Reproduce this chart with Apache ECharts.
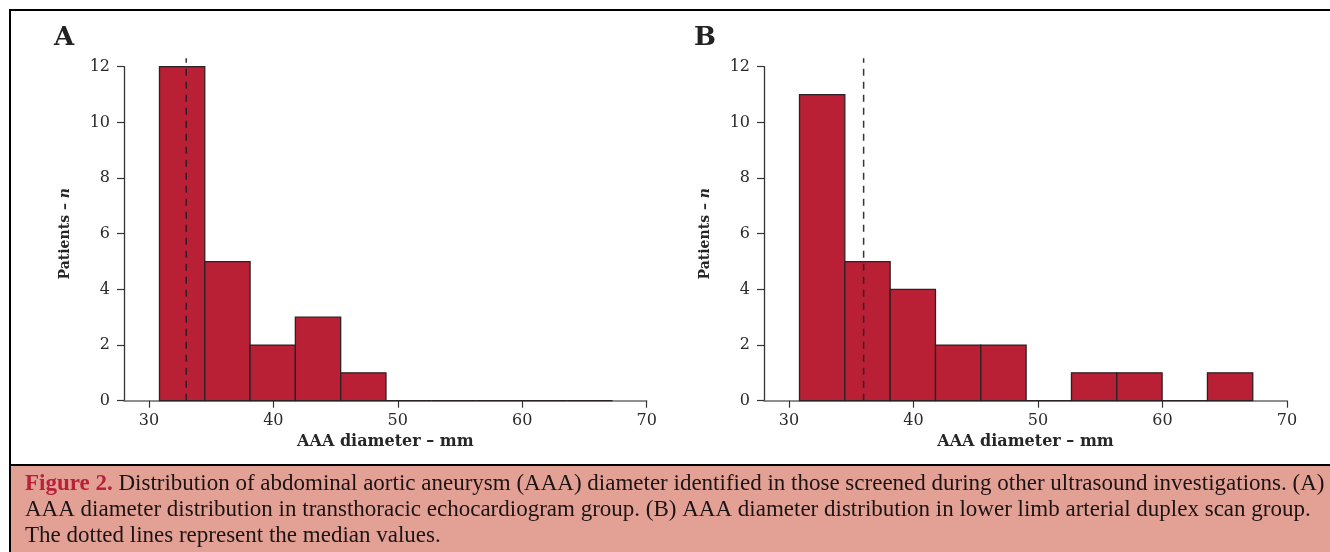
<!DOCTYPE html>
<html>
<head>
<meta charset="utf-8">
<script src="https://cdn.jsdelivr.net/npm/echarts@6/dist/echarts.min.js"></script>
<style>
  html, body { margin: 0; padding: 0; background: #fff; }
  #chart { width: 1330px; height: 552px; }
</style>
</head>
<body>
<div id="chart"></div>
<script>
// bin edges (mm), shared by both panels
var binEdges = [30.85, 34.49, 38.13, 41.77, 45.41, 49.05, 52.69, 56.33, 59.97, 63.61, 67.25];
// patient counts per bin
var countsA = [12, 5, 2, 3, 1, 0, 0, 0, 0, 0];
var countsB = [11, 5, 4, 2, 2, 0, 1, 1, 0, 1];
// median diameters (dotted lines)
var medianA = 33;
var medianB = 36;
var xTicks = [30, 40, 50, 60, 70];

var serif = 'DejaVu Serif';

function toBins(counts) {
  var out = [];
  for (var i = 0; i < counts.length; i++) {
    out.push([binEdges[i], binEdges[i + 1], counts[i]]);
  }
  return out;
}

function renderBar(params, api) {
  var p0 = api.coord([api.value(0), 0]);
  var p1 = api.coord([api.value(1), api.value(2)]);
  return {
    type: 'rect',
    shape: { x: p0[0], y: p1[1], width: p1[0] - p0[0], height: p0[1] - p1[1] },
    style: { fill: '#B91F35', stroke: '#2a2224', lineWidth: 1.3 }
  };
}

function xAxisOpt(idx) {
  return {
    type: 'value', gridIndex: idx, min: 28, max: 70,
    name: 'AAA diameter – mm', nameLocation: 'middle', nameGap: 31,
    nameTextStyle: { fontFamily: serif, fontWeight: 'bold', fontSize: 16, color: '#262626' },
    axisLine: { show: true, lineStyle: { color: '#6a6a6a', width: 1.5 } },
    axisTick: { show: true, length: 7, customValues: xTicks, lineStyle: { color: '#333', width: 1.2 } },
    axisLabel: { customValues: xTicks, margin: 12, fontFamily: serif, fontSize: 16, color: '#2a2a2a' },
    splitLine: { show: false }
  };
}

function yAxisOpt(idx) {
  return {
    type: 'value', gridIndex: idx, min: 0, max: 12, interval: 2,
    name: 'Patients – {i|n}', nameLocation: 'middle', nameGap: 52,
    nameTextStyle: {
      fontFamily: serif, fontWeight: 'bold', fontSize: 14, color: '#262626',
      rich: { i: { fontFamily: serif, fontWeight: 'bold', fontStyle: 'italic', fontSize: 14, color: '#262626' } }
    },
    axisLine: { show: true, lineStyle: { color: '#333', width: 1.3 } },
    axisTick: { show: true, length: 7, lineStyle: { color: '#333', width: 1.2 } },
    axisLabel: { margin: 14, fontFamily: serif, fontSize: 16, color: '#2a2a2a' },
    splitLine: { show: false }
  };
}

function medianLine(idx, m) {
  return {
    type: 'line', xAxisIndex: idx, yAxisIndex: idx,
    data: [[m, 0], [m, 12.3]],
    symbol: 'none', clip: false, z: 5,
    lineStyle: { color: 'rgba(35,30,32,0.9)', width: 1.5, type: [7, 6] }
  };
}

var captionFont = '23px "Liberation Serif"';

var chart = echarts.init(document.getElementById('chart'));
chart.setOption({
  animation: false,
  grid: [
    { left: 124, top: 66.7, width: 522.7, height: 334 },
    { left: 764, top: 66.7, width: 523, height: 334 }
  ],
  xAxis: [xAxisOpt(0), xAxisOpt(1)],
  yAxis: [yAxisOpt(0), yAxisOpt(1)],
  series: [
    { type: 'custom', xAxisIndex: 0, yAxisIndex: 0, data: toBins(countsA), renderItem: renderBar, clip: false },
    { type: 'custom', xAxisIndex: 1, yAxisIndex: 1, data: toBins(countsB), renderItem: renderBar, clip: false },
    medianLine(0, medianA),
    medianLine(1, medianB)
  ],
  graphic: [
    { type: 'rect', z: -10, shape: { x: 10, y: 10, width: 1340, height: 560 }, style: { fill: 'none', stroke: '#000', lineWidth: 2 } },
    { type: 'rect', z: -5, shape: { x: 10, y: 465, width: 1340, height: 100 }, style: { fill: '#E3A196', stroke: '#000', lineWidth: 2 } },
    { type: 'text', left: 54, top: 25, style: { text: 'A', fontFamily: serif, fontWeight: 'bold', fontSize: 26, fill: '#222' } },
    { type: 'text', left: 694, top: 25, style: { text: 'B', fontFamily: serif, fontWeight: 'bold', fontSize: 26, fill: '#222' } },
    {
      type: 'text', x: 25, y: 484,
      style: {
        text: '{f|Figure 2.} Distribution of abdominal aortic aneurysm (AAA) diameter identified in those screened during other ultrasound investigations. (A)',
        font: captionFont, fill: '#1c1414', verticalAlign: 'middle',
        rich: { f: { font: 'bold 23px "Liberation Serif"', fill: '#B7213B' } }
      }
    },
    {
      type: 'text', x: 25, y: 510,
      style: { text: 'AAA diameter distribution in transthoracic echocardiogram group. (B) AAA diameter distribution in lower limb arterial duplex scan group.', font: captionFont, fill: '#1c1414', verticalAlign: 'middle' }
    },
    {
      type: 'text', x: 25, y: 536,
      style: { text: 'The dotted lines represent the median values.', font: captionFont, fill: '#1c1414', verticalAlign: 'middle' }
    }
  ]
});
</script>
</body>
</html>
